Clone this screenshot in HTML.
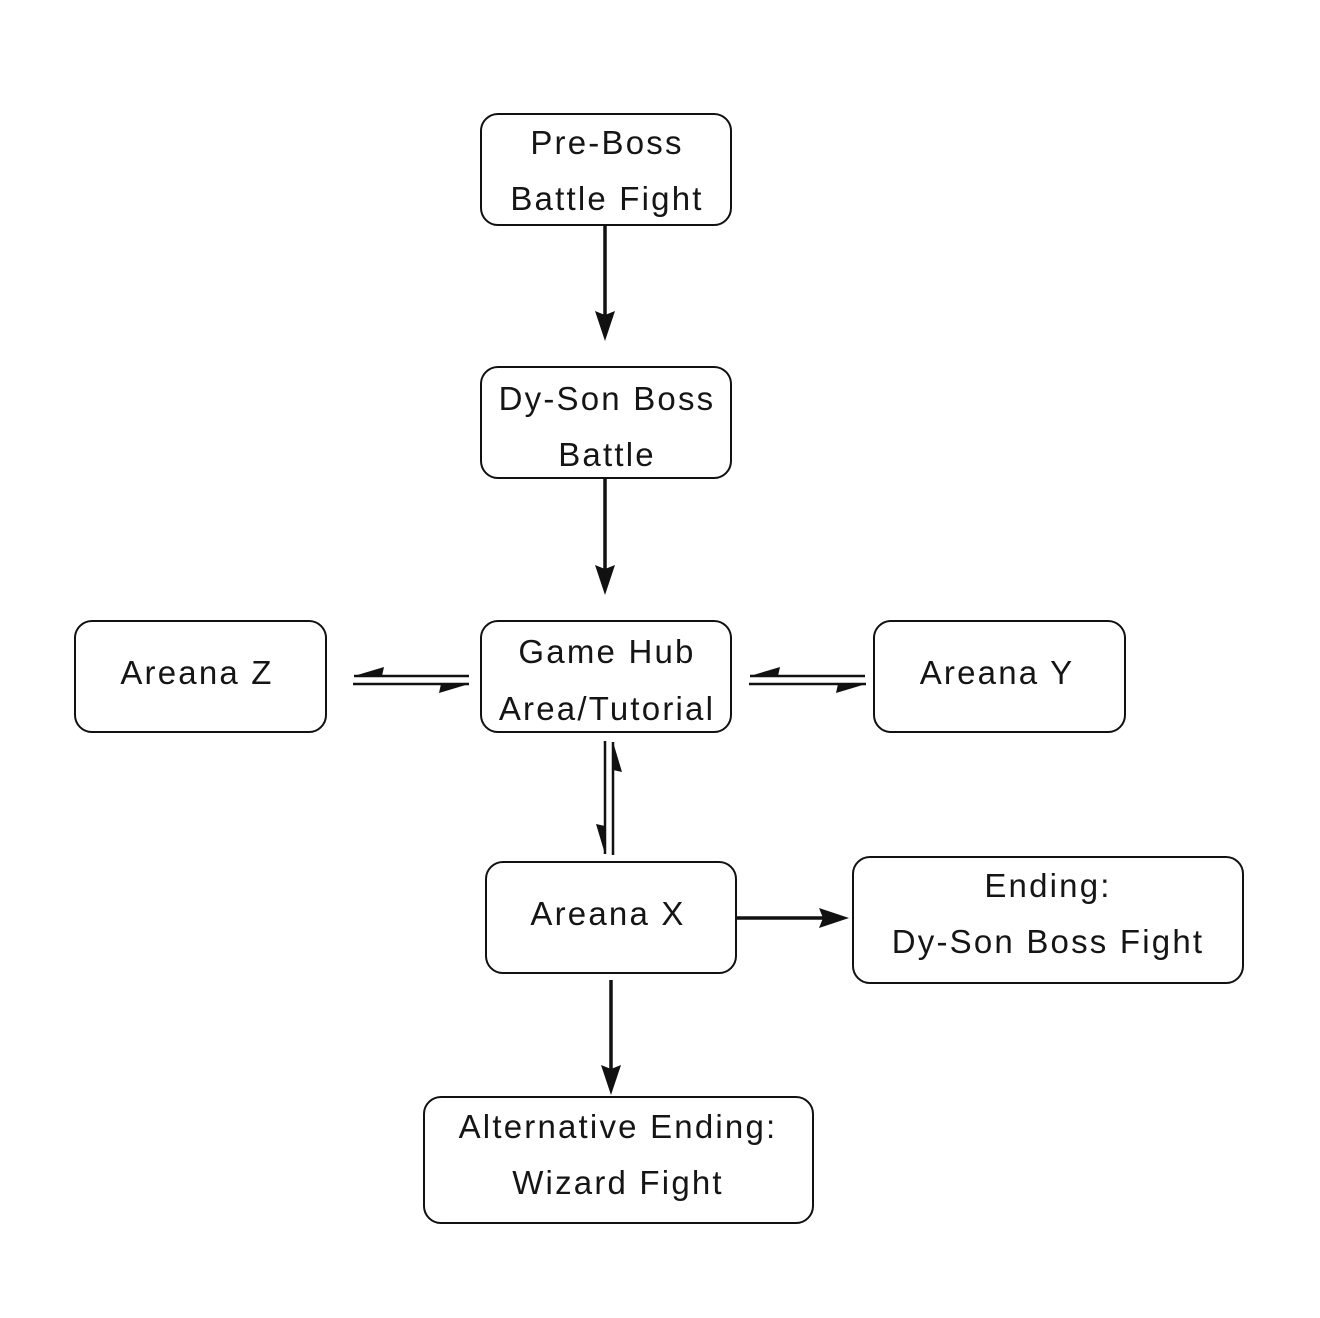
<!DOCTYPE html>
<html><head><meta charset="utf-8"><style>
html,body{margin:0;padding:0;background:#fff;}
svg{display:block;}
text{font-family:"Liberation Sans",sans-serif;font-size:33px;fill:#151515;text-anchor:middle;letter-spacing:2.2px;}
</style></head><body>
<svg width="1320" height="1318" viewBox="0 0 1320 1318" xmlns="http://www.w3.org/2000/svg">
<g fill="#fff" stroke="#111" stroke-width="2">
<rect x="481" y="114" width="250" height="111" rx="17"/>
<rect x="481" y="367" width="250" height="111" rx="17"/>
<rect x="481" y="621" width="250" height="111" rx="17"/>
<rect x="75" y="621" width="251" height="111" rx="17"/>
<rect x="874" y="621" width="251" height="111" rx="17"/>
<rect x="486" y="862" width="250" height="111" rx="17"/>
<rect x="853" y="857" width="390" height="126" rx="17"/>
<rect x="424" y="1097" width="389" height="126" rx="17"/>
</g>
<g stroke="#111" stroke-width="3.5" fill="none">
<line x1="605" y1="226" x2="605" y2="315"/>
<line x1="605" y1="479" x2="605" y2="569"/>
<line x1="611" y1="980" x2="611" y2="1069"/>
<line x1="737" y1="918" x2="823" y2="918"/>
</g>
<g fill="#111">
<path d="M595 311 L605 341 L615 311 L605 315 Z"/>
<path d="M595 565 L605 595 L615 565 L605 569 Z"/>
<path d="M601 1065 L611 1095 L621 1065 L611 1069 Z"/>
<path d="M819 908 L849 918 L819 928 L823 918 Z"/>
</g>
<g stroke="#111" stroke-width="2.5" fill="none">
<line x1="354" y1="676" x2="469" y2="676"/>
<line x1="353" y1="684" x2="469" y2="684"/>
<line x1="750" y1="676" x2="865" y2="676"/>
<line x1="749" y1="684" x2="866" y2="684"/>
<line x1="605" y1="741" x2="605" y2="854"/>
<line x1="613" y1="742" x2="613" y2="855"/>
</g>
<g fill="#111">
<path d="M354 676 L384 667 L382 676 Z"/>
<path d="M469 684 L439 693 L441 684 Z"/>
<path d="M750 676 L780 667 L778 676 Z"/>
<path d="M866 684 L836 693 L838 684 Z"/>
<path d="M613 742 L622 772 L613 770 Z"/>
<path d="M605 854 L596 824 L605 826 Z"/>
</g>
<text x="607" y="154">Pre-Boss</text>
<text x="607" y="210">Battle Fight</text>
<text x="607" y="410">Dy-Son Boss</text>
<text x="607" y="466">Battle</text>
<text x="607" y="663">Game Hub</text>
<text x="607" y="720">Area/Tutorial</text>
<text x="197" y="684">Areana Z</text>
<text x="997" y="684">Areana Y</text>
<text x="608" y="925">Areana X</text>
<text x="1048" y="897">Ending:</text>
<text x="1048" y="953">Dy-Son Boss Fight</text>
<text x="618" y="1138">Alternative Ending:</text>
<text x="618" y="1194">Wizard Fight</text>
</svg>
</body></html>
